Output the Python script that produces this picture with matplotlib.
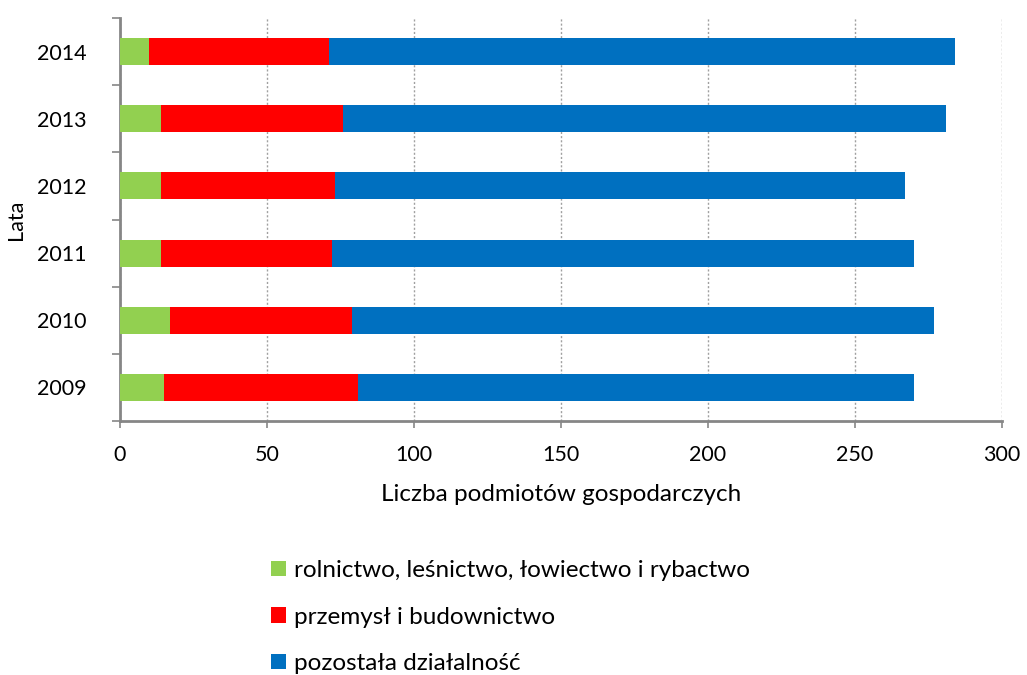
import matplotlib.pyplot as plt
import numpy as np
from matplotlib.ticker import FixedLocator

plt.rcParams['font.family'] = ['Lato', 'DejaVu Sans']

lata = ['2009', '2010', '2011', '2012', '2013', '2014']
rolnictwo = [15, 17, 14, 14, 14, 10]
przemysl = [66, 62, 58, 59, 62, 61]
pozostala = [189, 198, 198, 194, 205, 213]

nazwy = ['rolnictwo, leśnictwo, łowiectwo i rybactwo',
         'przemysł i budownictwo',
         'pozostała działalność']
kolory = ['#92d050', '#ff0000', '#0070c0']

fig = plt.figure(figsize=(10.27, 6.75), dpi=100)
ax = fig.add_axes([120 / 1027, 1 - 421 / 675, 882 / 1027, 403 / 675])

y = np.arange(len(lata))
left = np.zeros(len(lata))
for vals, nazwa, kol in zip([rolnictwo, przemysl, pozostala], nazwy, kolory):
    ax.barh(y, vals, left=left, height=0.4, color=kol, label=nazwa, zorder=3)
    left += np.array(vals)

ax.set_xlim(0, 300)
ax.set_ylim(-0.5, len(lata) - 0.5)
ax.set_xticks(range(0, 301, 50))
ax.set_yticks(y)
ax.set_yticklabels(lata)
ax.yaxis.set_minor_locator(FixedLocator(np.arange(-0.5, len(lata), 1)))
ax.tick_params(axis='y', which='major', length=0, labelsize=15.5, pad=24)
ax.tick_params(axis='y', which='minor', length=6, width=1.2, color='#868686', direction='out')
ax.tick_params(axis='x', length=5, width=1.2, color='#868686', labelsize=15.5, pad=12)

ax.grid(axis='x', linestyle=(0, (1.5, 1.5)), color='#a0a0a0', linewidth=1, zorder=0)
for s in ['top', 'right']:
    ax.spines[s].set_visible(False)
for s in ['left', 'bottom']:
    ax.spines[s].set_color('#868686')
    ax.spines[s].set_linewidth(2)

ax.set_xlabel('Liczba podmiotów gospodarczych', fontsize=17.5, labelpad=14)
ax.set_ylabel('Lata', fontsize=15.5, labelpad=8)

ax.legend(loc='upper left', bbox_to_anchor=(271 / 1027, 1 - 560 / 675),
          bbox_transform=fig.transFigure, frameon=False, fontsize=17.5,
          borderpad=0, borderaxespad=0,
          handlelength=0.6, handleheight=0.6, handletextpad=0.35, labelspacing=1.05)

fig.savefig('out.png', dpi=100)
